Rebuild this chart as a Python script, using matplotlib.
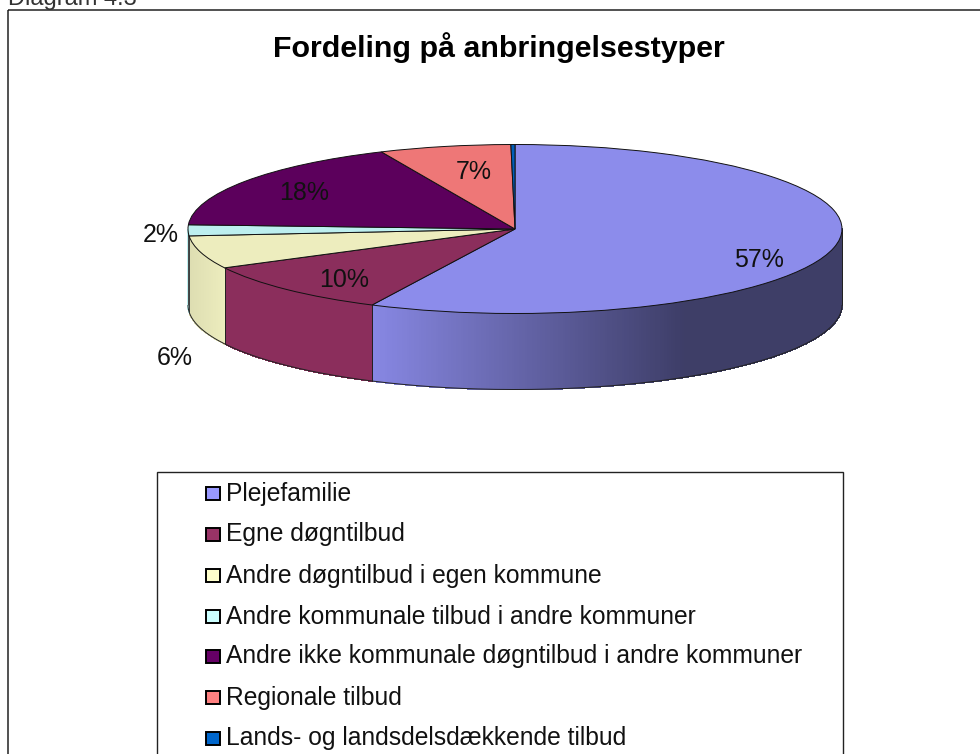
import numpy as np
import matplotlib
matplotlib.use("Agg")
import matplotlib.pyplot as plt
from matplotlib.patches import Rectangle, Polygon

plt.rcParams['font.family'] = ['Liberation Sans', 'DejaVu Sans']

# data
categories = ["Plejefamilie", "Egne døgntilbud", "Andre døgntilbud i egen kommune",
              "Andre kommunale tilbud i andre kommuner",
              "Andre ikke kommunale døgntilbud i andre kommuner",
              "Regionale tilbud", "Lands- og landsdelsdækkende tilbud"]
shares = [57.2, 10.2, 6.3, 2.1, 17.5, 6.5, 0.2]
share_labels = ["57%", "10%", "6%", "2%", "18%", "7%"]
top_colors = ["#8C8CEB", "#8B2E5C", "#EDEDBE", "#BDEFEF", "#5C005C", "#EE7777", "#005EB8"]
legend_colors = ["#9999FF", "#993366", "#FFFFCC", "#CCFFFF", "#660066", "#FF8080", "#0066CC"]

W, H = 980, 754
CX, CY, RX, RY, DEPTH = 515, 229, 327, 84.5, 76

fig = plt.figure(figsize=(W / 100, H / 100), dpi=100)

# pie axes: unit circle is stretched onto the ellipse by the limits
ax = fig.add_axes([0, 0, 1, 1], zorder=1)
wedges, _ = ax.pie(shares, colors=top_colors, startangle=90, counterclock=False,
                   radius=1, wedgeprops=dict(edgecolor='#111111', linewidth=0.7))
ax.set_aspect('auto')
ax.set_xlim((0 - CX) / RX, (W - CX) / RX)
ax.set_ylim((CY - H) / RY, CY / RY)
ax.axis('off')
for w in wedges:
    w.set_zorder(5)

# side wall of the disc, thin strips so it can be shaded
d = DEPTH / RY
bounds = 90 - np.cumsum([0] + shares) * 3.6


def shade(x, i):
    if i == 0:
        # dark towards the right hand side
        return np.interp(x, [-0.44, 0.52, 1.0], [0.97, 0.44, 0.44])
    if i == 2:
        return np.interp(x, [-1.0, -0.88], [0.93, 1.0])
    return 1.0


for i in range(len(shares)):
    # only the front half of the rim shows
    a0 = max(bounds[i + 1], -180)
    a1 = min(bounds[i], 0)
    if a0 >= a1:
        continue
    t = np.radians(np.linspace(a0, a1, 260))
    base = np.array(matplotlib.colors.to_rgb(top_colors[i]))
    for k in range(len(t) - 1):
        xa, xb = np.cos(t[k]), np.cos(t[k + 1])
        ya, yb = np.sin(t[k]), np.sin(t[k + 1])
        col = np.clip(base * shade((xa + xb) / 2, i), 0, 1)
        ax.add_patch(Polygon([(xa, ya), (xb, yb), (xb, yb - d), (xa, ya - d)],
                             fc=col, ec=col, lw=0.6, antialiased=False, zorder=2))
    # edge line at the slice boundary, not for the sliver at the far left
    if a1 - a0 > 5:
        ax.plot([np.cos(t[0])] * 2, [np.sin(t[0]), np.sin(t[0]) - d], color='#222222', lw=0.6,
                solid_capstyle='butt', zorder=3)
        ax.plot([np.cos(t[-1])] * 2, [np.sin(t[-1]), np.sin(t[-1]) - d], color='#222222', lw=0.6,
                solid_capstyle='butt', zorder=3)

t = np.radians(np.linspace(-180, 0, 400))
ax.plot(np.cos(t), np.sin(t) - d, color='#222222', lw=0.7, solid_capstyle='butt', zorder=3)
ax.plot([-1, -1], [0, -d], color='#444444', lw=0.7, solid_capstyle='butt', zorder=3)
ax.plot([1, 1], [0, -d], color='#222222', lw=0.7, solid_capstyle='butt', zorder=3)

# page layer in pixel coordinates (frames, title, labels, legend)
page = fig.add_axes([0, 0, 1, 1], zorder=2)
page.set_xlim(0, W)
page.set_ylim(H, 0)
page.axis('off')

page.add_patch(Rectangle((8, 10), W + 20, H + 20, fc='none', ec='#222222', lw=1.1))
page.text(8, 5, "Diagram 4.3", fontsize=17, color='#333333', va='baseline', ha='left')
page.text(498.5, 48, "Fordeling på anbringelsestyper", fontsize=21.9, fontweight='bold',
          ha='center', va='center', color='black')

# percent labels
label_pos = [(759, 260), (344, 280), (175, 358), (161, 235), (304, 193), (474, 172)]
for lab, (px, py) in zip(share_labels, label_pos):
    page.text(px, py, lab, fontsize=18, ha='center', va='center', color='#111111', zorder=10)

# legend box runs off the bottom of the picture
page.add_patch(Rectangle((157, 472), 686, H, fc='white', ec='#222222', lw=1.0, zorder=4))
rows = [493, 534, 575, 616, 656, 697, 738]
for name, col, y in zip(categories, legend_colors, rows):
    page.add_patch(Rectangle((206, y - 6.5), 13.5, 13, fc=col, ec='black', lw=1.4, zorder=5))
    page.text(226, y + 7.5, name, fontsize=17.75, ha='left', va='baseline', color='#111111', zorder=6)

fig.savefig("out.png", dpi=100, facecolor='white')
